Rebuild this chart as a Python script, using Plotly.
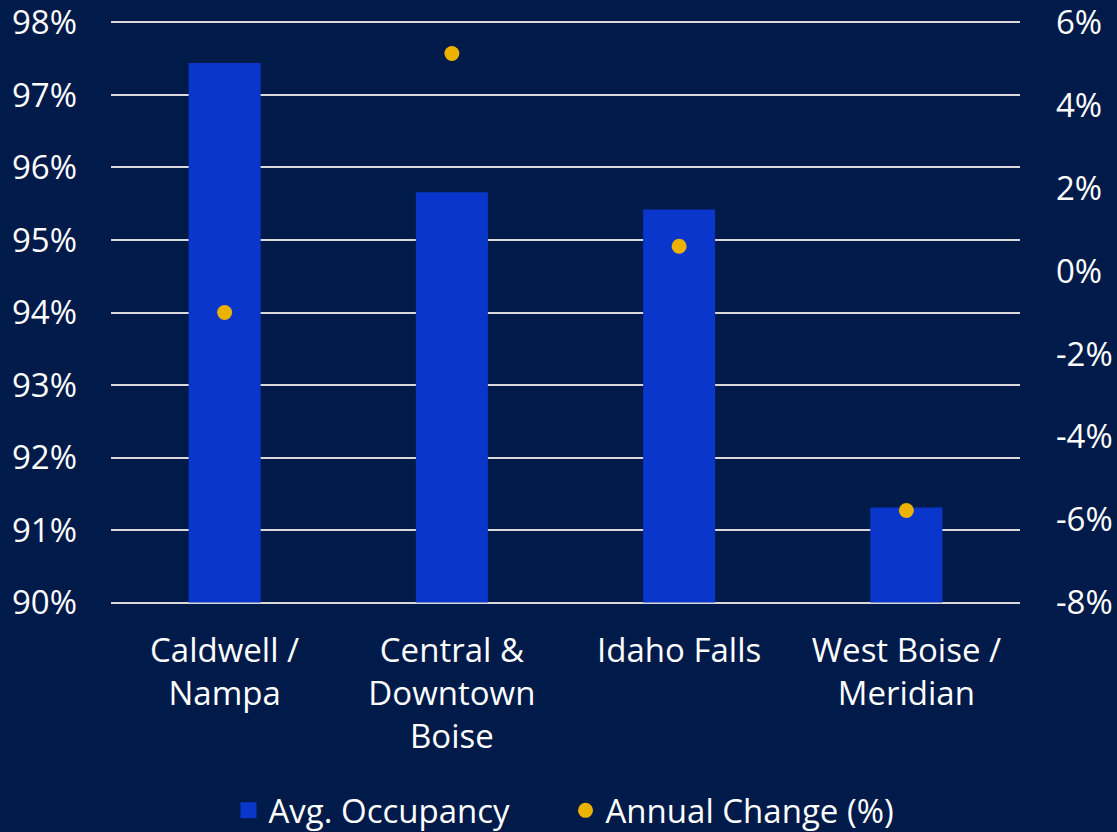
import plotly.graph_objects as go

# Submarket occupancy and year-over-year change
markets = ["Caldwell /<br>Nampa", "Central &<br>Downtown<br>Boise", "Idaho Falls", "West Boise /<br>Meridian"]
avg_occupancy = [97.44, 95.66, 95.42, 91.31]
annual_change = [-1.0, 5.25, 0.6, -5.78]

left_ticks = [90, 91, 92, 93, 94, 95, 96, 97, 98]
right_ticks = [-8, -6, -4, -2, 0, 2, 4, 6]

# axis ranges (tiny padding keeps the edge gridlines visible)
left_range = [89.98, 98.02]
right_range = [-8.035, 6.035]

BG = "#001a4a"
BAR = "#0a36cc"
DOT = "#ebb200"
FONT = "Open Sans"
FS = 33

fig = go.Figure()
fig.add_trace(go.Bar(
    x=markets, y=[v - left_ticks[0] for v in avg_occupancy], base=left_ticks[0],
    name="Avg. Occupancy", showlegend=False, legendgroup="occ",
    marker=dict(color=BAR, line=dict(width=0)),
    yaxis="y",
))
# square swatch for the bar series in the legend
fig.add_trace(go.Scatter(
    x=[None], y=[None], name="Avg. Occupancy", legendgroup="occ",
    mode="markers", marker=dict(color=BAR, size=20, symbol="square"),
    yaxis="y",
))
fig.add_trace(go.Scatter(
    x=markets, y=annual_change, name="Annual Change (%)",
    mode="markers", marker=dict(color=DOT, size=15),
    yaxis="y2",
))

fig.update_layout(
    width=1117, height=832,
    paper_bgcolor=BG, plot_bgcolor=BG,
    margin=dict(l=111, r=97, t=20.5, b=227.5, autoexpand=False),
    font=dict(family=FONT, color="white", size=FS),
    bargap=0.683,
    showlegend=True,
    legend=dict(orientation="h", x=0.5, xanchor="center", y=-0.354, yanchor="middle",
                font=dict(size=FS, color="white"), itemwidth=30,
                entrywidth=292, entrywidthmode="pixels",
                traceorder="normal", bgcolor="rgba(0,0,0,0)"),
    xaxis=dict(showgrid=False, showline=False, zeroline=False, ticks="",
               automargin=False, ticklabelstandoff=24,
               tickfont=dict(size=FS, color="white")),
    yaxis=dict(range=left_range, tickvals=left_ticks,
               ticktext=[f"{v}%" for v in left_ticks],
               showgrid=True, gridcolor="#d9d9d9", gridwidth=2,
               zeroline=False, showline=False, ticks="",
               automargin=False, ticklabelstandoff=33,
               ticklabeloverflow="allow",
               tickfont=dict(size=FS, color="white")),
    yaxis2=dict(range=right_range, tickvals=right_ticks,
                ticktext=[f"{v}%" for v in right_ticks],
                overlaying="y", side="right", showgrid=False,
                zeroline=False, showline=False, ticks="",
                automargin=False, ticklabelstandoff=35,
                ticklabeloverflow="allow",
                tickfont=dict(size=FS, color="white")),
)

fig.write_html("out.html")
